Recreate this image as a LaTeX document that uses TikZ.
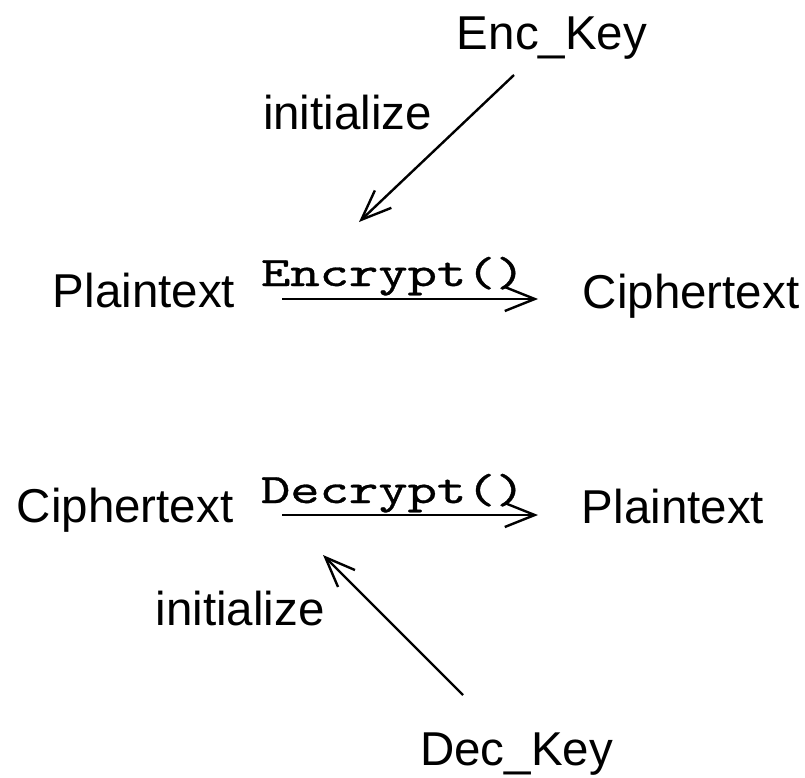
\documentclass[tikz,border=0pt]{standalone}
\usepackage{fontspec}
\usepackage{graphicx}
\setmainfont{Liberation Sans}
\newfontfamily\codefont{lmmono10-regular.otf}[FakeBold=0.7]
\usetikzlibrary{arrows.meta}
\begin{document}
\begin{tikzpicture}[x=1pt,y=-1pt,
  lbl/.style={font=\fontsize{47.5}{57}\selectfont, inner sep=0pt, anchor=base},
  fn/.style={font=\fontsize{42}{50}\selectfont\codefont, inner sep=0pt, anchor=base},
  arr/.style={line width=2.4pt, -{Straight Barb[length=30pt,width=24pt,line width=2.4pt]}}]
\useasboundingbox (0,0) rectangle (805,778);
% labels
\node[lbl] (enckey) at (552,50) {Enc\_Key};
\node[lbl] (init1) at (347.5,130) {initialize};
\node[lbl] (pt1) at (144,307) {Plaintext};
\node[lbl] (ct1) at (691,308) {Ciphertext};
\node[fn] (enc) at (393,286) {\scalebox{1.33}[1]{Encrypt()}};
\node[lbl] (ct2) at (125,522) {Ciphertext};
\node[lbl] (pt2) at (673,523) {Plaintext};
\node[fn] (dec) at (393,503) {\scalebox{1.33}[1]{Decrypt()}};
\node[lbl] (init2) at (240,625) {initialize};
\node[lbl] (deckey) at (516.5,765) {Dec\_Key};
% connector ends
\coordinate (e1s) at (282,299);
\coordinate (e1e) at (538,299);
\coordinate (d1s) at (282,515);
\coordinate (d1e) at (538,515);
\coordinate (ek) at (514,75);
\coordinate (ekend) at (359,222);
\coordinate (dk) at (463,695);
\coordinate (dkend) at (323,555);
% connectors
\draw[arr] (e1s) -- (e1e);
\draw[arr] (d1s) -- (d1e);
\draw[arr] (ek) -- (ekend);
\draw[arr] (dk) -- (dkend);
\end{tikzpicture}
\end{document}
